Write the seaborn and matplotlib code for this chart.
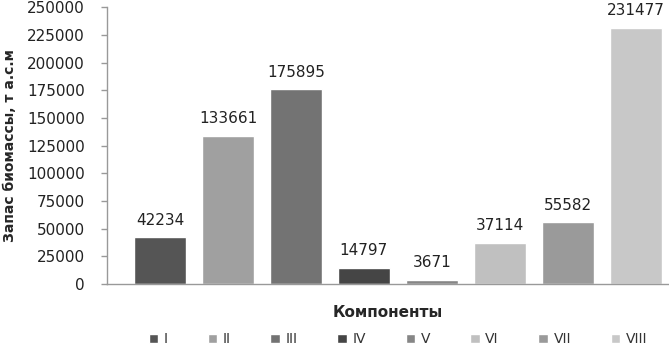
import matplotlib
matplotlib.use("Agg")
import matplotlib.pyplot as plt
import pandas as pd
import seaborn as sns

# Data
components = ["I", "II", "III", "IV", "V", "VI", "VII", "VIII"]
biomass = [42234, 133661, 175895, 14797, 3671, 37114, 55582, 231477]
bar_colors = ["#555555", "#a0a0a0", "#737373", "#454545",
              "#868686", "#c0c0c0", "#9a9a9a", "#c8c8c8"]
y_ticks = [0, 25000, 50000, 75000, 100000, 125000, 150000, 175000, 200000, 225000, 250000]


def main():
    df = pd.DataFrame({"component": components, "biomass": biomass})

    sns.set_style("white")
    plt.rcParams["font.family"] = ["DejaVu Sans"]

    fig = plt.figure(figsize=(6.69, 3.48), dpi=100)
    ax = fig.add_axes([0.16, 0.184, 0.84, 0.795])

    sns.barplot(
        data=df,
        x="component",
        y="biomass",
        hue="component",
        palette=bar_colors,
        width=0.765,
        dodge=False,
        legend=True,
        ax=ax,
        saturation=1,
    )

    # Value labels above the bars
    for container in ax.containers:
        ax.bar_label(container, fmt="%d", padding=7, fontsize=11, color="#222222")

    ax.set_ylim(0, 250000)
    ax.set_xlim(-0.78, 7.49)
    ax.set_yticks(y_ticks)
    ax.set_yticklabels([str(t) for t in y_ticks], fontsize=11, color="#222222")
    ax.set_xticks([])

    # Spines like Excel defaults
    for side in ["top", "right"]:
        ax.spines[side].set_visible(False)
    for side in ["left", "bottom"]:
        ax.spines[side].set_color("#999999")
        ax.spines[side].set_linewidth(1)
    ax.tick_params(axis="y", direction="out", length=4, width=1, color="#999999", left=True, pad=12)

    ax.set_ylabel("Запас биомассы, т а.с.м", fontsize=10, fontweight="bold", labelpad=7)
    ax.set_xlabel("Компоненты", fontsize=11, fontweight="bold", labelpad=15)

    # Legend along the bottom
    handles, labels = ax.get_legend_handles_labels()
    ax.get_legend().remove()
    fig.legend(
        handles,
        labels,
        loc="center",
        bbox_to_anchor=(0.595, 0.025),
        ncol=8,
        frameon=False,
        handlelength=0.7,
        handleheight=0.7,
        handletextpad=0.4,
        columnspacing=2.85,
        fontsize=10,
        labelcolor="#333333",
    )

    fig.savefig("out.png", dpi=100)
    plt.close(fig)


if __name__ == "__main__":
    main()
